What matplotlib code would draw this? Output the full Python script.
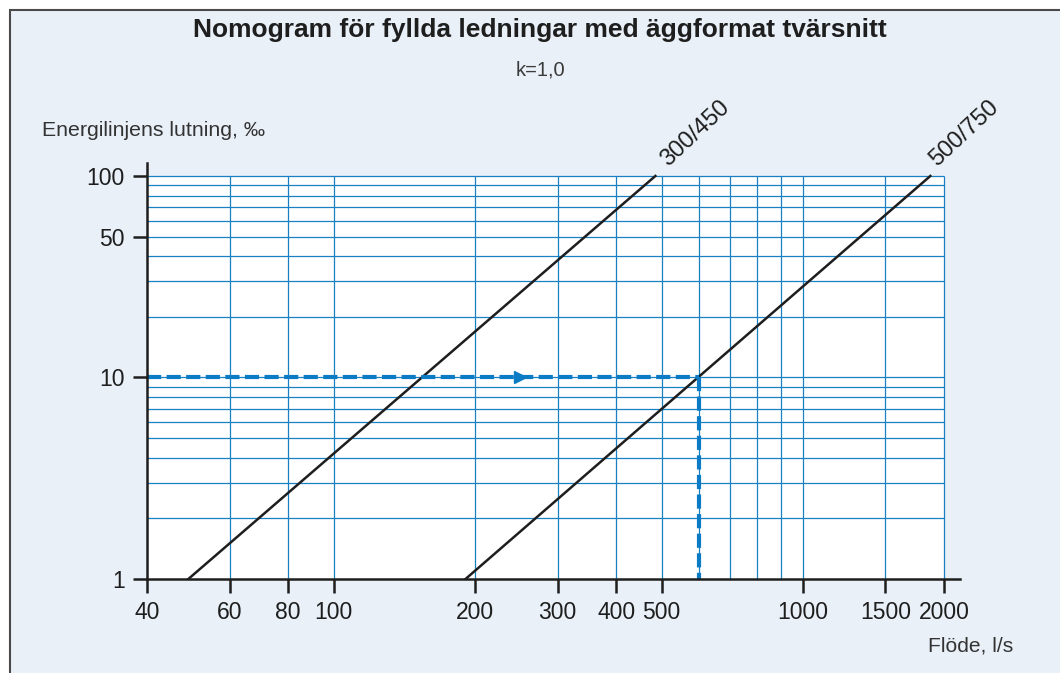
#! /usr/bin/env python3

import matplotlib as mpl
mpl.use('Agg')
import matplotlib.pyplot as plt
from matplotlib.patches import Rectangle

mpl.rcParams.update({'font.size': 14,
                     'font.family': ['Liberation Sans', 'DejaVu Sans'],
                     'mathtext.default': 'regular',
                    })

# data
xticks = [40, 60, 80, 100, 200, 300, 400, 500, 1000, 1500, 2000]
yticks = [1, 10, 50, 100]
xgrid = [60, 80, 100, 200, 300, 400, 500, 600, 700, 800, 900, 1000, 1500, 2000]
ygrid = [2, 3, 4, 5, 6, 7, 8, 9, 10, 20, 30, 40, 50, 60, 70, 80, 90, 100]

pipe_labels = ['300/450', '500/750']
flow_300 = [49, 485]
flow_500 = [191, 1870]
slope_ends = [1, 100]

ex_slope = 10
ex_flow = 600
arrow_flow = 250

bg = '#e9f0f8'
blue = '#1a80c4'
dblue = '#0a7bc4'

fig = plt.figure(figsize=(10.6, 6.73), dpi=100, facecolor='white')
fig.patches.append(Rectangle((10/1060, -0.05), 1.2, 1 - 10/673 + 0.05,
                             transform=fig.transFigure, facecolor=bg,
                             edgecolor='#4a4a4a', lw=1.5, zorder=-5))

ax = fig.add_axes([147/1060, 94/673, 813/1060, 416/673])
ax.set_facecolor('none')
ax.set_xscale('log')
ax.set_yscale('log')
ax.set_xlim(40, 2163)
ax.set_ylim(1, 116)

# white chart area and grid
ax.add_patch(Rectangle((40, 1), 2000 - 40, 100 - 1, facecolor='white',
                       edgecolor='none', zorder=0))
ax.vlines(xgrid, 1, 100, color=blue, lw=0.9, zorder=1)
ax.hlines(ygrid, 40, 2000, color=blue, lw=0.9, zorder=1)

# pipe lines
ax.plot(flow_300, slope_ends, color='#1e1e1e', lw=1.8, zorder=3)
ax.plot(flow_500, slope_ends, color='#1e1e1e', lw=1.8, zorder=3)
ax.text(flow_300[1] * 1.08, 106, pipe_labels[0], rotation=43, fontsize=17,
        ha='left', va='bottom', rotation_mode='anchor', color='#1e1e1e')
ax.text(flow_500[1] * 1.05, 106, pipe_labels[1], rotation=43, fontsize=17,
        ha='left', va='bottom', rotation_mode='anchor', color='#1e1e1e')

# example reading
ax.plot([40, ex_flow], [ex_slope, ex_slope], color=dblue, lw=3,
        dashes=(3.4, 1.3), zorder=4)
ax.plot([ex_flow, ex_flow], [ex_slope, 1], color=dblue, lw=3,
        dashes=(3.4, 1.3), zorder=4)
ax.plot([arrow_flow], [ex_slope], marker='>', color=dblue, ms=9, zorder=5)

# axes
for s in ['top', 'right']:
    ax.spines[s].set_visible(False)
for s in ['left', 'bottom']:
    ax.spines[s].set_linewidth(1.8)
    ax.spines[s].set_color('#1e1e1e')
    ax.spines[s].set_zorder(6)
ax.set_xticks(xticks)
ax.set_xticklabels([str(v) for v in xticks])
ax.set_yticks(yticks)
ax.set_yticklabels([str(v) for v in yticks])
ax.minorticks_off()
ax.tick_params(length=10, width=1.8, color='#1e1e1e', labelsize=16.5,
               labelcolor='#1e1e1e', pad=6)

fig.text(540/1060, 1 - 30/673, 'Nomogram för fyllda ledningar med äggformat tvärsnitt',
         ha='center', va='center', fontsize=19, fontweight='bold', color='#1e1e1e')
fig.text(540/1060, 1 - 70/673, 'k=1,0', ha='center', va='center', fontsize=14.5,
         color='#3a3a3a')
fig.text(42/1060, 1 - 130/673, 'Energilinjens lutning, ‰', ha='left', va='center',
         fontsize=15.3, color='#333333')
fig.text(1013/1060, 1 - 646/673, 'Flöde, l/s', ha='right', va='center',
         fontsize=15.1, color='#333333')

fig.savefig('out.png', dpi=100)
